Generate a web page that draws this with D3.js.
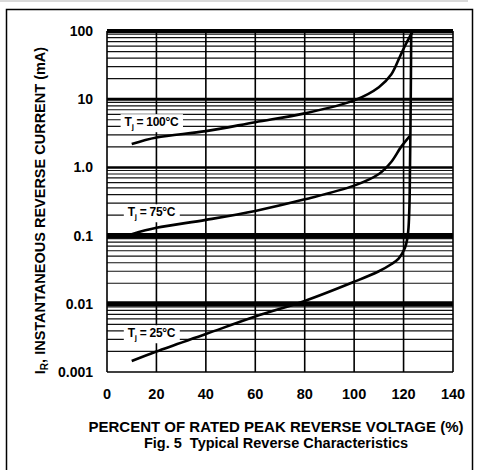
<!DOCTYPE html>
<html>
<head>
<meta charset="utf-8">
<script src="https://cdn.jsdelivr.net/npm/d3@7"></script>
<style>
  body { margin: 0; background: #fff; }
  svg { display: block; }
  text { font-family: "Liberation Sans", Arial, sans-serif; font-weight: bold; fill: #000; }
</style>
</head>
<body>
<svg width="485" height="470"></svg>
<script>
(function() {

  // tick values / labels
  const xTicks = [0, 20, 40, 60, 80, 100, 120, 140];
  const yTicks = [0.001, 0.01, 0.1, 1, 10, 100];
  const yTickLabels = ['0.001', '0.01', '0.1', '1.0', '10', '100'];

  // curves: [percent of rated voltage, current mA]
  const t100 = [[10, 2.2], [20, 2.75], [40, 3.4], [60, 4.6], [80, 6.2], [100, 9.6], [110, 15],
    [115, 23], [118.5, 42], [121, 65], [123.8, 100]];
  const t75 = [[10, 0.105], [20, 0.13], [40, 0.17], [60, 0.23], [80, 0.34], [100, 0.54],
    [110, 0.8], [115, 1.2], [119, 2.0], [122.6, 2.9]];
  const t25 = [[10, 0.00145], [20, 0.002], [40, 0.0036], [60, 0.0065], [80, 0.011], [100, 0.021],
    [110, 0.03], [115, 0.038], [118, 0.046], [120.5, 0.065], [121.5, 0.09], [122, 0.13],
    [122.4, 0.3], [122.6, 1], [122.9, 10], [123.1, 100]];

  const labels = [
    { temp: '100°C', x: 18, y: 4.6 },
    { temp: '75°C', x: 18, y: 0.22 },
    { temp: '25°C', x: 18, y: 0.0037 }
  ];

  const svg = d3.select('svg');

  // outer frame
  svg.append('line').attr('x1', 0).attr('x2', 468).attr('y1', 1).attr('y2', 1)
    .attr('stroke', '#ccc').attr('stroke-width', 1.5);
  svg.append('rect').attr('x', 6.5).attr('y', 9.5).attr('width', 466).attr('height', 470)
    .attr('fill', 'none').attr('stroke', '#000').attr('stroke-width', 1.5);

  const left = 107, right = 453, top = 31, bottom = 372;
  const x = d3.scaleLinear().domain([0, 140]).range([left, right]);
  const y = d3.scaleLog().domain([0.001, 100]).range([bottom, top]);

  const grid = svg.append('g');

  // minor log lines
  const minors = [];
  for (let d = 0.001; d < 99; d *= 10) {
    for (let k = 2; k <= 9; k++) minors.push(+(d * k).toPrecision(3));
  }
  grid.selectAll('line.minor').data(minors).enter().append('line')
    .attr('class', 'minor')
    .attr('x1', left).attr('x2', right)
    .attr('y1', d => y(d)).attr('y2', d => y(d))
    .attr('stroke', '#111').attr('stroke-width', 1.2);

  // decade lines (thickness varies like the scan)
  const decadeWidth = { 0.001: 1.5, 0.01: 5, 0.1: 5, 1: 2.5, 10: 3, 100: 4 };
  grid.selectAll('line.decade').data(yTicks).enter().append('line')
    .attr('class', 'decade')
    .attr('x1', left).attr('x2', right)
    .attr('y1', d => y(d)).attr('y2', d => y(d))
    .attr('stroke', '#000').attr('stroke-width', d => decadeWidth[d]);

  // vertical lines
  grid.selectAll('line.v').data(xTicks).enter().append('line')
    .attr('class', 'v')
    .attr('x1', d => x(d)).attr('x2', d => x(d))
    .attr('y1', top).attr('y2', bottom)
    .attr('stroke', '#000').attr('stroke-width', 1.6);

  // label boxes
  const lab = svg.append('g');
  labels.forEach(l => {
    const t = lab.append('text')
      .attr('x', x(l.x)).attr('y', y(l.y) + 4)
      .attr('font-size', 12).attr('text-anchor', 'middle')
      .attr('letter-spacing', -0.3);
    t.append('tspan').text('T');
    t.append('tspan').attr('font-size', 8).attr('dy', 3).text('j');
    t.append('tspan').attr('dy', -3).text(' = ' + l.temp);
    const bb = t.node().getBBox();
    lab.insert('rect', 'text')
      .attr('x', bb.x - 4).attr('y', bb.y - 1)
      .attr('width', bb.width + 8).attr('height', bb.height + 2)
      .attr('fill', '#fff');
  });

  // curves
  const line = d3.line()
    .x(d => x(d[0]))
    .y(d => y(d[1]))
    .curve(d3.curveCatmullRom.alpha(0.5));
  [t100, t75, t25].forEach(s => {
    svg.append('path').datum(s)
      .attr('d', line)
      .attr('fill', 'none').attr('stroke', '#000').attr('stroke-width', 2.6);
  });

  // axis tick labels
  svg.append('g').selectAll('text').data(xTicks).enter().append('text')
    .attr('x', d => x(d)).attr('y', 399)
    .attr('text-anchor', 'middle').attr('font-size', 14.5)
    .text(d => d);
  svg.append('g').selectAll('text').data(yTicks).enter().append('text')
    .attr('x', 93).attr('y', d => y(d) + 5)
    .attr('text-anchor', 'end').attr('font-size', 14)
    .text((d, i) => yTickLabels[i]);

  // axis titles
  const yt = svg.append('text')
    .attr('transform', 'translate(45,' + ((top + bottom) / 2 + 9) + ') rotate(-90)')
    .attr('text-anchor', 'middle').attr('font-size', 14.5);
  yt.append('tspan').text('I');
  yt.append('tspan').attr('font-size', 10).attr('dy', 3).text('R');
  yt.append('tspan').attr('dy', -3).text(', INSTANTANEOUS REVERSE CURRENT (mA)');

  svg.append('text').attr('x', 276).attr('y', 432)
    .attr('text-anchor', 'middle').attr('font-size', 15)
    .text('PERCENT OF RATED PEAK REVERSE VOLTAGE (%)');
  svg.append('text').attr('x', 276).attr('y', 448)
    .attr('text-anchor', 'middle').attr('font-size', 14.5)
    .attr('xml:space', 'preserve')
    .text('Fig. 5  Typical Reverse Characteristics');

})();
</script>
</body>
</html>
